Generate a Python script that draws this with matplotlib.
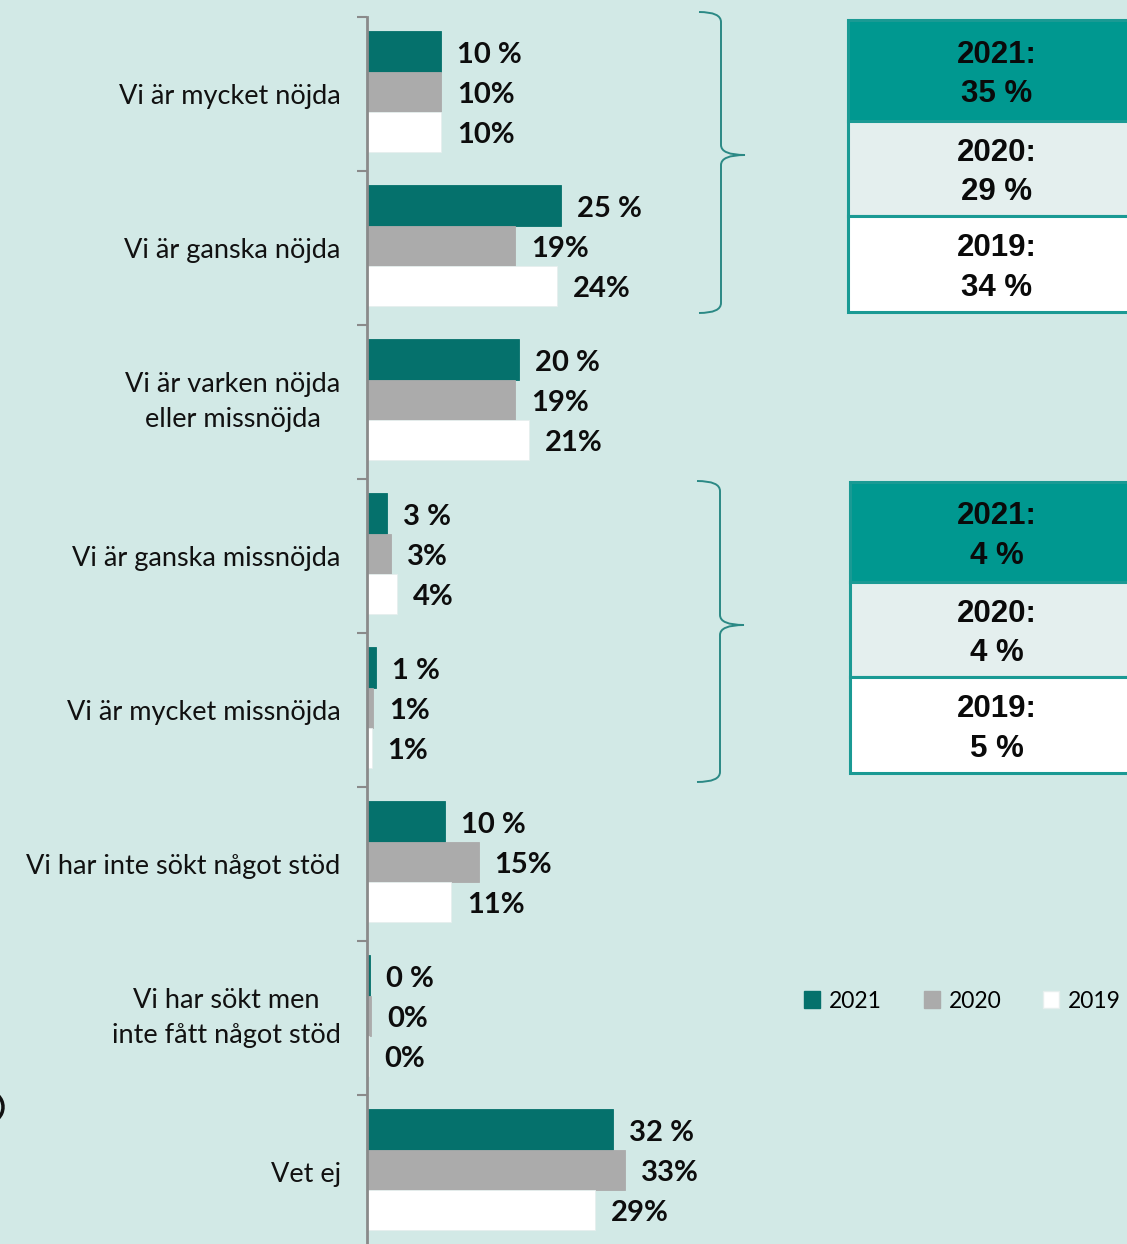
import matplotlib
matplotlib.use("Agg")
import matplotlib.pyplot as plt
import matplotlib.transforms as mtransforms
from matplotlib.path import Path
from matplotlib.patches import PathPatch, Rectangle, Patch, Arc

# ---------------- data ----------------
categories = [
    "Vi är mycket nöjda",
    "Vi är ganska nöjda",
    "Vi är varken nöjda\neller missnöjda",
    "Vi är ganska missnöjda",
    "Vi är mycket missnöjda",
    "Vi har inte sökt något stöd",
    "Vi har sökt men\ninte fått något stöd",
    "Vet ej",
]
series_names = ["2021", "2020", "2019"]
values_2021 = [9.6, 25.2, 19.7, 2.6, 1.2, 10.1, 0.4, 31.9]
values_2020 = [9.6, 19.2, 19.2, 3.1, 0.8, 14.5, 0.5, 33.5]
values_2019 = [9.6, 24.7, 21.0, 3.9, 0.6, 10.9, 0.2, 29.6]
labels_2021 = ["10 %", "25 %", "20 %", "3 %", "1 %", "10 %", "0 %", "32 %"]
labels_2020 = ["10%", "19%", "19%", "3%", "1%", "15%", "0%", "33%"]
labels_2019 = ["10%", "24%", "21%", "4%", "1%", "11%", "0%", "29%"]

summary_positive = ["2021:\n35 %", "2020:\n29 %", "2019:\n34 %"]
summary_negative = ["2021:\n4 %", "2020:\n4 %", "2019:\n5 %"]

# ---------------- style ----------------
W, H = 1127, 1244
BG = "#d2e9e6"
C2021 = "#05716c"
C2020 = "#ababab"
C2019 = "#ffffff"
TEAL_BOX = "#009890"
LIGHT_BOX = "#e4efee"
BORDER = "#1a9a94"
GRAY_AX = "#8a8a8a"

fig = plt.figure(figsize=(W / 100, H / 100), dpi=100, facecolor=BG)

# pixel transform (x from left, y from top)
pix = mtransforms.Affine2D().scale(1 / W, -1 / H).translate(0, 1) + fig.transFigure

ax_left, ax_top, ax_bottom = 367, 17, 1249
ax_w = 770
ax = fig.add_axes([ax_left / W, (H - ax_bottom) / H, ax_w / W, (ax_bottom - ax_top) / H])
ax.set_facecolor("none")
ax.set_xlim(0, 100)
n = len(categories)
ax.set_ylim(n - 0.5, -0.5)

bar_h = 0.262
offsets = [-0.275, -0.015, 0.245]
series = [values_2021, values_2020, values_2019]
series_labels = [labels_2021, labels_2020, labels_2019]
colors = [C2021, C2020, C2019]

for vals, labs, off, col in zip(series, series_labels, offsets, colors):
    ys = [i + off for i in range(n)]
    ec = "#e6efee" if col == C2019 else col
    ax.barh(ys, vals, height=bar_h, color=col, edgecolor=ec, linewidth=0.6, zorder=2)
    for y, v, lab in zip(ys, vals, labs):
        ax.annotate(lab, xy=(v, y), xytext=(11.5, -2.5), textcoords="offset points",
                    ha="left", va="center", fontsize=21, fontweight="bold",
                    family=["Lato", "DejaVu Sans"], color="#0d0d0d")

# axes / ticks
for s in ["top", "right", "bottom"]:
    ax.spines[s].set_visible(False)
ax.spines["left"].set_color(GRAY_AX)
ax.spines["left"].set_linewidth(2)
ax.set_xticks([])
ax.set_yticks(range(n))
ax.set_yticklabels(categories)
ax.tick_params(axis="y", which="major", length=0, pad=19)
ax.set_yticks([i - 0.5 for i in range(n + 1)], minor=True)
ax.tick_params(axis="y", which="minor", length=7, width=1.5, color=GRAY_AX)
for lab in ax.get_yticklabels():
    lab.set_fontfamily(["Lato", "DejaVu Sans"])
    lab.set_fontsize(19.5)
    lab.set_multialignment("center")
    lab.set_linespacing(1.52)
    lab.set_color("#111111")
    if "\n" in lab.get_text():
        lab.set_va("center")


# ---------------- braces ----------------
def brace(x0, xl, xt, y0, ym, y1, r=10):
    verts = [(x0, y0), (xl, y0), (xl, y0 + r),
             (xl, ym - r), (xl, ym), (xt, ym),
             (xl, ym), (xl, ym + r),
             (xl, y1 - r), (xl, y1), (x0, y1)]
    codes = [Path.MOVETO, Path.CURVE3, Path.CURVE3,
             Path.LINETO, Path.CURVE3, Path.CURVE3,
             Path.CURVE3, Path.CURVE3,
             Path.LINETO, Path.CURVE3, Path.CURVE3]
    fig.patches.append(PathPatch(Path(verts, codes), transform=pix, fill=False,
                                 edgecolor="#2b8985", linewidth=1.4))


brace(699, 721, 745, 12, 155, 313)
brace(697, 720, 744, 481, 625, 782)


# ---------------- summary boxes ----------------
def summary_box(x0, rows, texts):
    fills = [TEAL_BOX, LIGHT_BOX, "#ffffff"]
    for (ya, yb), txt, fc in zip(rows, texts, fills):
        fig.patches.append(Rectangle((x0, ya), 1200 - x0, yb - ya, transform=pix,
                                     facecolor=fc, edgecolor=BORDER, linewidth=2.2))
        fig.text((997) / W, 1 - ((ya + yb) / 2 + 4) / H, txt, ha="center", va="center",
                 fontsize=22.5, fontweight="bold", family=["Liberation Sans", "DejaVu Sans"],
                 linespacing=1.4, color="#0a0a0a")


summary_box(848, [(20, 121), (121, 216), (216, 312)], summary_positive)
summary_box(850, [(482, 582), (582, 677), (677, 773)], summary_negative)

# ---------------- legend ----------------
handles = [Patch(facecolor=c, edgecolor=("#e6efee" if c == C2019 else c)) for c in colors]
fig.legend(handles, series_names, loc="center left",
           bbox_to_anchor=(795 / W, 1 - 1001 / H), ncol=3, frameon=False,
           prop={"family": ["Lato", "DejaVu Sans"], "size": 16.5},
           handlelength=0.7, handleheight=0.7, handletextpad=0.4,
           columnspacing=1.8, borderaxespad=0)

# small cropped circle at left edge
fig.patches.append(Arc((-13, 1107), 32, 32, transform=pix, color="#111111", linewidth=2.5))

fig.savefig("out.png", dpi=100, facecolor=BG)
